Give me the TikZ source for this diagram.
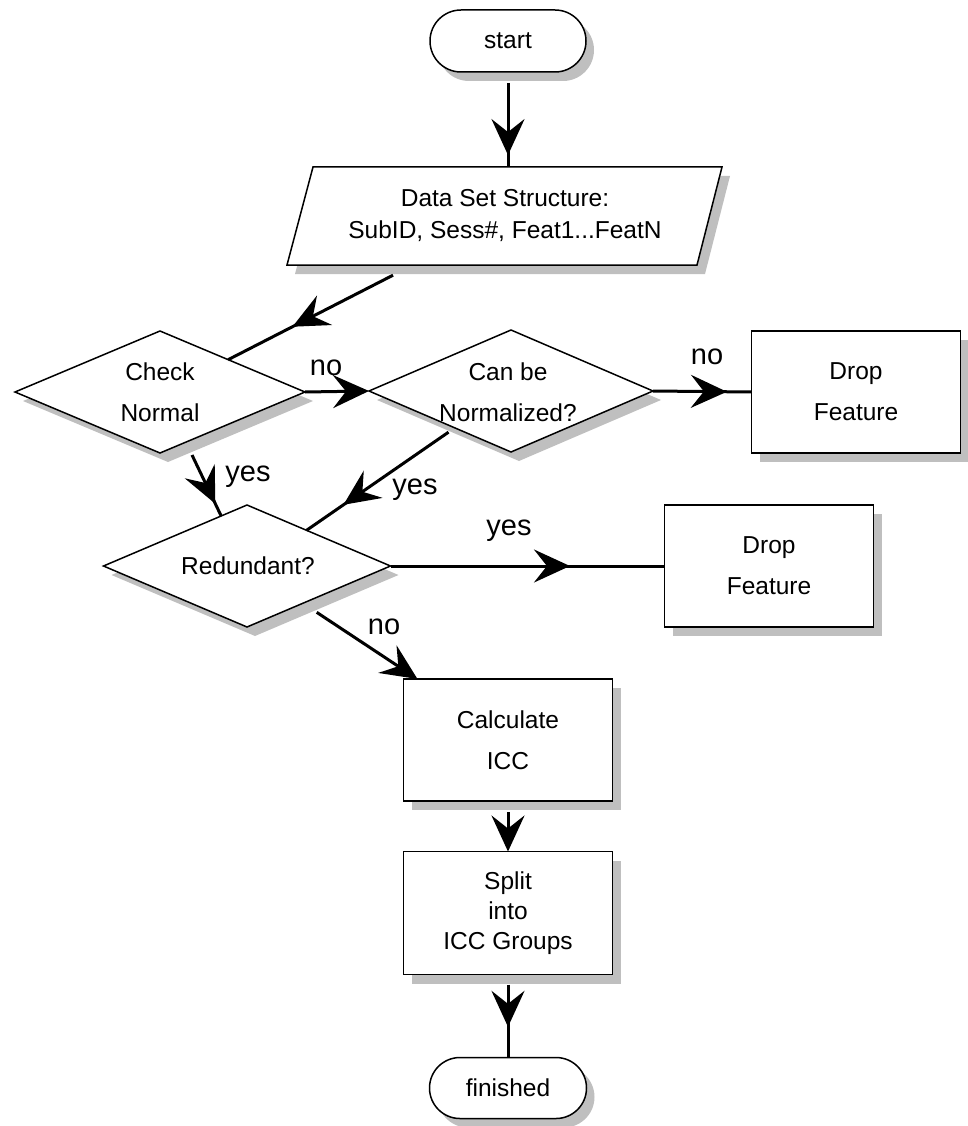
\documentclass[tikz,border=0pt]{standalone}
\usepackage{fontspec}
\setmainfont{Liberation Sans}
\usetikzlibrary{shapes.geometric,shapes.misc,shadows,arrows.meta,decorations.markings,calc}
\tikzset{
  shd/.style={drop shadow={shadow xshift=8pt, shadow yshift=-9pt, fill=black!25, opacity=1}},
  base/.style={draw=black, line width=1.5pt, fill=white, shd, inner sep=0pt, outer sep=0pt},
  term/.style={base, rounded rectangle, minimum width=156pt, minimum height=62pt},
  procbox/.style={base, rectangle, minimum width=209pt, minimum height=122pt},
  dia/.style={base, diamond, minimum width=#1, minimum height=122pt},
  txt/.style={align=center, font=\fontsize{24.5}{41}\selectfont},
  lbl/.style={font=\fontsize{29}{33}\selectfont},
  conn/.style={line width=3pt},
  tipend/.style={-{Stealth[length=36pt,width=33pt,inset=13pt]}},
  arrowat/.style={postaction={decorate}, decoration={markings, mark=at position #1 with {\arrow{Stealth[length=36pt,width=33pt,inset=13pt]}}}}
}
\begin{document}
\begin{tikzpicture}[x=1pt,y=-1pt]
\useasboundingbox (0,0) rectangle (968,1126);
% terminals
\node[term] (start) at (508,41) {};
\node[txt] (startT) at (start) {start};
% data parallelogram
\fill[black!25] (321,176)--(730,176)--(705,274)--(295,274)--cycle;
\draw[line width=1.5pt, fill=white] (313,167)--(722,167)--(697,265)--(287,265)--cycle;
\node[inner sep=0pt, minimum width=435pt, minimum height=98pt, align=center, font=\fontsize{24.5}{32}\selectfont] (data) at (505,216) {Data Set Structure:\\SubID, Sess\#, Feat1...FeatN};
% decisions
\node[dia=290pt] (chk) at (160,392) {};
\node[txt] (chkT) at (chk) {Check\\Normal};
\node[dia=284pt] (can) at (511,391) {};
\node[txt] (canT) at (508,392) {Can be\\Normalized?};
\node[dia=287pt] (red) at (247,566) {};
\node[txt] (redT) at (248,566) {Redundant?};
% processes
\node[procbox] (drop1) at (856,392) {};
\node[txt] (drop1T) at (drop1) {Drop\\Feature};
\node[procbox] (drop2) at (769,566) {};
\node[txt] (drop2T) at (drop2) {Drop\\Feature};
\node[procbox] (calc) at (508,740) {};
\node[txt] (calcT) at (calc) {Calculate\\ICC};
\node[procbox, minimum height=123pt] (split) at (508,913) {};
\node[txt, font=\fontsize{24.5}{30}\selectfont] (splitT) at (split) {Split\\into\\ICC Groups};
\node[term, minimum width=157pt, minimum height=61pt] (fin) at (508,1088) {};
\node[txt] (finT) at (fin) {finished};
% connectors
\draw[conn, arrowat=0.86] ($(start.south)+(0,11)$) -- (start.south |- data.north);
\draw[conn, arrowat=0.61] ($(data.south)+(-112,10)$) -- ($(chk.north)!0.47!(chk.east)$);
\draw[conn, tipend] (chk.east) -- (can.west);
\draw[conn, arrowat=0.75] (can.east) -- (drop1.west);
\draw[conn, arrowat=0.8] ($(chk.south)+(32,2)$) -- ($(red.north)!0.18!(red.west)$);
\draw[conn, arrowat=0.74] ($(can.south)!0.44!(can.west)+(0,7)$) -- ($(red.north)!0.415!(red.east)$);
\draw[conn, arrowat=0.655] (red.east) -- (drop2.west);
\draw[conn, tipend] ($(red.south)!0.486!(red.east)+(0,15)$) -- ($(calc.north west)+(14,0)$);
\draw[conn, tipend] ($(calc.south)+(0,11)$) -- (split.north);
\draw[conn, arrowat=0.58] ($(split.south)+(0,10)$) -- (fin.north);
% labels
\node[lbl] (no1) at (326,368) {no};
\node[lbl] (no2) at (707,357) {no};
\node[lbl] (yes1) at (248,477) {yes};
\node[lbl] (yes2) at (415,490) {yes};
\node[lbl] (yes3) at (509,531) {yes};
\node[lbl] (no3) at (384,627) {no};
\end{tikzpicture}
\end{document}
